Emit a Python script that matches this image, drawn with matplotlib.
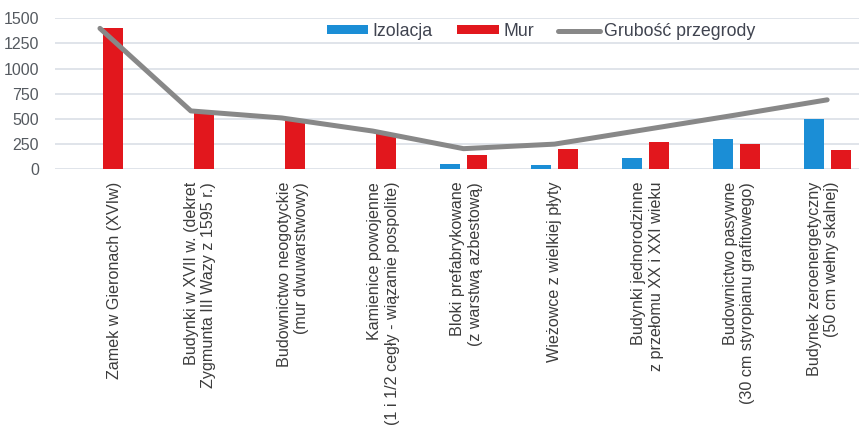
import matplotlib
matplotlib.use("Agg")
import matplotlib.pyplot as plt
import matplotlib.transforms as mtransforms
import numpy as np

categories = [
    "Zamek w Gieronach (XVIw)",
    "Budynki w XVII w. (dekret\nZygmunta III Wazy z 1595 r.)",
    "Budownictwo neogotyckie\n(mur dwuwarstwowy)",
    "Kamienice powojenne\n(1 i 1/2 cegły - wiązanie pospolite)",
    "Bloki prefabrykowane\n(z warstwą azbestową)",
    "Wieżowce z wielkiej płyty",
    "Budynki jednorodzinne\nz przełomu XX i XXI wieku",
    "Budownictwo pasywne\n(30 cm styropianu grafitowego)",
    "Budynek zeroenergetyczny\n(50 cm wełny skalnej)",
]
izolacja = [0, 0, 0, 0, 50, 45, 115, 300, 500]
mur = [1400, 560, 475, 355, 140, 200, 268, 250, 195]
grubosc = [1400, 580, 510, 380, 205, 250, 395, 540, 690]
yticks = [0, 250, 500, 750, 1000, 1250, 1500]

plt.rcParams['font.family'] = ['Liberation Sans', 'DejaVu Sans']

fig = plt.figure(figsize=(8.59, 4.33), dpi=100)
W, H = 859, 433
left_px, right_px = 54.5, 872.6
top_px, bot_px = 18.3, 169.3
ax = fig.add_axes([left_px / W, 1 - bot_px / H, (right_px - left_px) / W, (bot_px - top_px) / H])

x = np.arange(len(categories))
bw = 0.22
off = 0.148
blue = "#1b8ed6"
red = "#e2171d"
grey = "#888888"

b1 = ax.bar(x - off, izolacja, width=bw, color=blue, label="Izolacja", zorder=2)
b2 = ax.bar(x + off, mur, width=bw, color=red, label="Mur", zorder=2)
l1, = ax.plot(x, grubosc, color=grey, lw=3.6, solid_capstyle='round', solid_joinstyle='round',
              label="Grubość przegrody", zorder=3)

ax.set_xlim(-0.5, len(categories) - 0.5)
ax.set_ylim(0, 1500)
ax.set_yticks(yticks)
ax.set_yticklabels([str(v) for v in yticks], fontsize=11.5, color="#555a60")
ax.grid(axis='y', color="#dde2e8", lw=1.3, zorder=0)
ax.set_axisbelow(True)
for s in ax.spines.values():
    s.set_visible(False)
ax.tick_params(axis='both', length=0)
ax.tick_params(axis='y', pad=11)
ax.tick_params(axis='x', pad=9)

ax.set_xticks(x)
labels = ax.set_xticklabels(categories, rotation=90, fontsize=11.6, color="#3c3c3c",
                            ha='center', va='top', multialignment='right', linespacing=1.2)
label_shift_px = [15, 9, 11, 11, 3, 0, 2, 3, -4]
for lab, dx in zip(labels, label_shift_px):
    lab.set_transform(lab.get_transform() +
                      mtransforms.ScaledTranslation(dx / 100, 0, fig.dpi_scale_trans))

leg = fig.legend([b1, b2, l1], ["Izolacja", "Mur", "Grubość przegrody"],
                 loc='center', bbox_to_anchor=(541 / W, 1 - 31.5 / H), ncol=3,
                 frameon=False, fontsize=12.8, handlelength=2.35, handleheight=0.42,
                 handletextpad=0.25, columnspacing=1.35, labelcolor="#404450")

fig.savefig("out.png", dpi=100)
